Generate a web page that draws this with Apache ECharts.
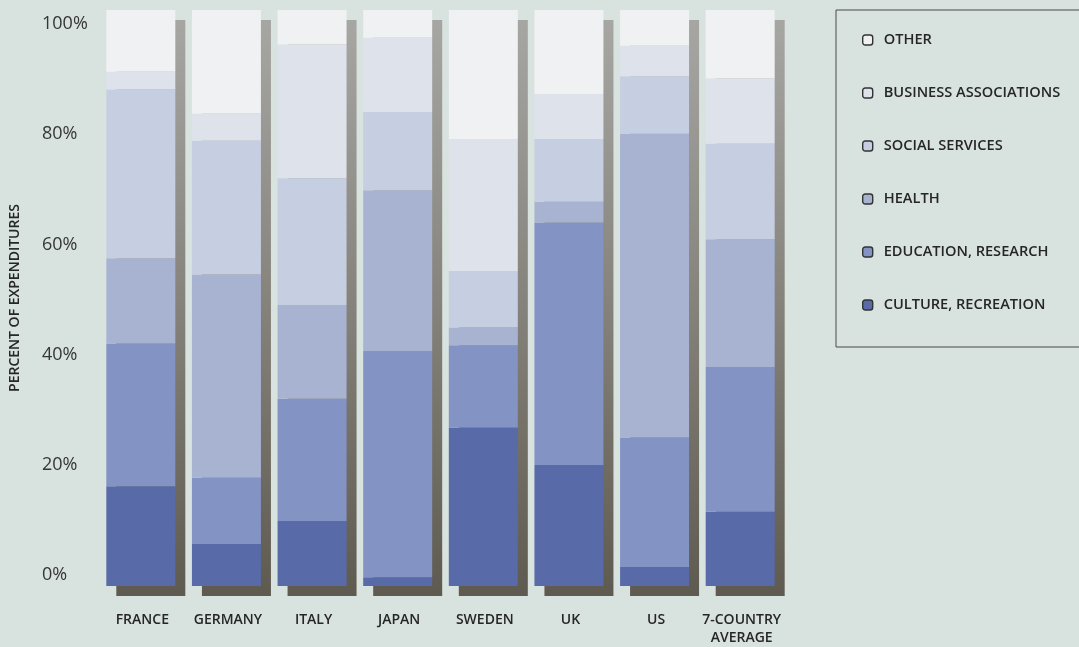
<!DOCTYPE html>
<html>
<head>
<meta charset="utf-8">
<style>
  html, body { margin: 0; padding: 0; background: #d8e2de; }
  #chart { width: 1079px; height: 647px; }
</style>
<script src="https://cdn.jsdelivr.net/npm/echarts@6/dist/echarts.min.js"></script>
</head>
<body>
<div id="chart"></div>
<script>
// Nonprofit expenditures by field, share of total (%)
const categories = ['FRANCE', 'GERMANY', 'ITALY', 'JAPAN', 'SWEDEN', 'UK', 'US', '7-COUNTRY\nAVERAGE'];
const culture    = [17.3,  7.3, 11.3,  1.5, 27.5, 21.0,  3.3, 12.9];
const education  = [24.8, 11.5, 21.2, 39.3, 14.3, 42.1, 22.5, 25.1];
const health     = [14.8, 35.3, 16.3, 27.9,  3.1,  3.6, 52.7, 22.2];
const social     = [29.3, 23.2, 22.0, 13.6,  9.8, 10.9, 10.0, 16.6];
const business   = [ 3.1,  4.7, 23.2, 12.9, 22.9,  7.8,  5.3, 11.3];
const other      = [10.7, 18.0,  6.0,  4.8, 22.4, 14.6,  6.2, 11.9];
const tickValues = [0, 20, 40, 60, 80, 100];

const layers = [
  { name: 'CULTURE, RECREATION',   data: culture,   color: '#586ba8' },
  { name: 'EDUCATION, RESEARCH',   data: education, color: '#8393c3' },
  { name: 'HEALTH',                data: health,    color: '#a8b3d2' },
  { name: 'SOCIAL SERVICES',       data: social,    color: '#c6cee1' },
  { name: 'BUSINESS ASSOCIATIONS', data: business,  color: '#dde2eb' },
  { name: 'OTHER',                 data: other,     color: '#f0f1f2' }
];

const totals = categories.map((_, i) => layers.reduce((s, l) => s + l.data[i], 0));

const BAR_W = 69;
const SHADOW = 10;
const font = '"Open Sans", "Noto Sans", sans-serif';

const chart = echarts.init(document.getElementById('chart'), null, { renderer: 'canvas' });

// Drop shadow behind each column, sized from the column's total
const shadowSeries = {
  type: 'custom',
  name: 'shadow',
  xAxisIndex: 0,
  yAxisIndex: 0,
  z: 1,
  silent: true,
  data: totals.map((t, i) => [i, t]),
  renderItem: function (params, api) {
    const top = api.coord([api.value(0), api.value(1)]);
    const bot = api.coord([api.value(0), 0]);
    return {
      type: 'rect',
      shape: {
        x: top[0] - BAR_W / 2 + SHADOW,
        y: top[1] + SHADOW,
        width: BAR_W,
        height: bot[1] - top[1]
      },
      style: {
        fill: new echarts.graphic.LinearGradient(0, 0, 0, 1, [
          { offset: 0, color: '#a6a6a3' },
          { offset: 0.5, color: '#85827b' },
          { offset: 1, color: '#5e5a50' }
        ])
      }
    };
  }
};

const barSeries = layers.map(l => ({
  type: 'bar',
  name: l.name,
  stack: 'total',
  barWidth: BAR_W,
  z: 2,
  data: l.data,
  itemStyle: { color: l.color },
  emphasis: { disabled: true }
}));

chart.setOption({
  backgroundColor: '#d8e2de',
  animation: false,
  grid: { left: 94, right: 296, top: 10, bottom: 60, containLabel: false },
  legend: {
    orient: 'vertical',
    left: 836,
    top: 10,
    padding: [22, 200, 34, 26],
    itemGap: 37,
    itemWidth: 10,
    itemHeight: 10,
    borderColor: '#4a4a4a',
    borderWidth: 1,
    data: layers.slice().reverse().map(l => l.name),
    itemStyle: { borderColor: '#333333', borderWidth: 1.4 },
    textStyle: {
      fontFamily: font,
      fontWeight: 600,
      fontSize: 14.6,
      lineHeight: 16,
      color: '#262626',
      padding: [0, 0, 0, 6]
    },
    selectedMode: false
  },
  xAxis: {
    type: 'category',
    data: categories,
    axisLine: { show: false },
    axisTick: { show: false },
    axisLabel: {
      interval: 0,
      margin: 25,
      fontFamily: font,
      fontWeight: 600,
      fontSize: 14,
      lineHeight: 18,
      color: '#262626',
      padding: [0, 0, 0, 3]
    }
  },
  yAxis: [
    {
      type: 'value',
      min: 0,
      max: 100,
      show: false,
      splitLine: { show: false }
    },
    {
      type: 'value',
      position: 'left',
      min: -1.993,
      max: 102.536,
      name: 'PERCENT OF EXPENDITURES',
      nameLocation: 'middle',
      nameRotate: 90,
      nameGap: 76,
      nameTextStyle: {
        fontFamily: font,
        fontWeight: 600,
        fontSize: 14,
        color: '#262626'
      },
      axisLine: { show: false },
      axisTick: { show: false },
      splitLine: { show: false },
      axisLabel: {
        customValues: tickValues,
        formatter: '{value}%',
        align: 'left',
        margin: 56,
        fontFamily: font,
        fontSize: 18,
        color: '#363636'
      }
    }
  ],
  series: [shadowSeries].concat(barSeries)
});
</script>
</body>
</html>
